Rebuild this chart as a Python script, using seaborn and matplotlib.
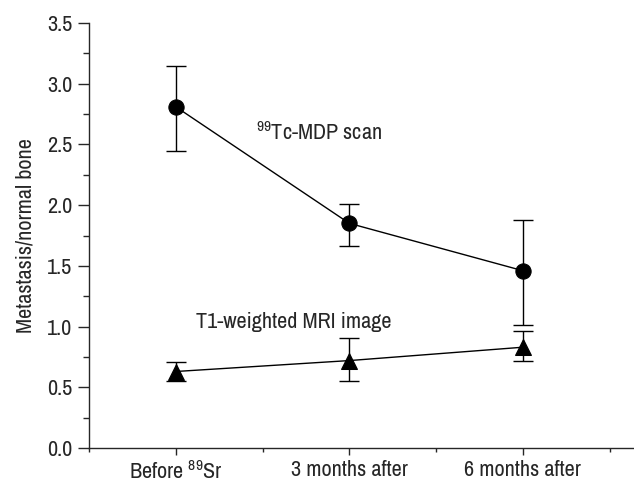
import matplotlib
matplotlib.use("Agg")
import matplotlib.pyplot as plt
import seaborn as sns
import pandas as pd
from matplotlib.ticker import MultipleLocator
from matplotlib import font_manager

categories = ["Before $^{89}$Sr", "3 months after", "6 months after"]
xpos = [1, 2, 3]
tc_mean = [2.81, 1.85, 1.46]
tc_upper = [3.15, 2.01, 1.88]
tc_lower = [2.45, 1.66, 1.01]
mri_mean = [0.63, 0.72, 0.83]
mri_upper = [0.71, 0.91, 0.96]
mri_lower = [0.55, 0.55, 0.72]

names = sorted({f.name for f in font_manager.fontManager.ttflist})
narrow = [n for n in names if "Narrow" in n or "Condensed" in n]

sns.set_style("ticks")
family = narrow[:1] + ['Liberation Sans', 'DejaVu Sans']
plt.rcParams['font.family'] = family
plt.rcParams['mathtext.fontset'] = 'custom'
plt.rcParams['mathtext.rm'] = family[0]

fig = plt.figure(figsize=(6.34, 4.83), dpi=100)
ax = fig.add_axes([89/634, 35/483, 545/634, 425/483])

df = pd.DataFrame({"x": xpos * 2,
                   "y": tc_mean + mri_mean,
                   "series": ["tc"] * 3 + ["mri"] * 3})
sns.lineplot(data=df, x="x", y="y", style="series", markers={"tc": "o", "mri": "^"},
             dashes=False, color="black", markersize=11, lw=1, legend=False, ax=ax,
             markeredgecolor="black")

for mean, up, lo in [(tc_mean, tc_upper, tc_lower), (mri_mean, mri_upper, mri_lower)]:
    yerr = [[m - l for m, l in zip(mean, lo)], [u - m for m, u in zip(mean, up)]]
    ax.errorbar(xpos, mean, yerr=yerr, fmt="none", ecolor="black", elinewidth=1,
                capsize=7, capthick=1)

fs = 16 if narrow else 12
ax.set_xlim(0.5, 3.64)
ax.set_ylim(0, 3.5)
ax.set_xticks(xpos)
ax.set_xticklabels(categories, fontsize=fs)
ax.xaxis.set_minor_locator(MultipleLocator(0.5))
ax.yaxis.set_major_locator(MultipleLocator(0.5))
ax.yaxis.set_minor_locator(MultipleLocator(0.25))
ax.set_yticklabels([f"{v:.1f}" for v in ax.get_yticks()], fontsize=fs)
ax.tick_params(axis="y", which="major", length=8, width=1, pad=4)
ax.tick_params(axis="y", which="minor", length=4, width=1)
ax.tick_params(axis="x", which="major", length=5, width=1, pad=4)
ax.tick_params(axis="x", which="minor", length=3, width=1)
ax.set_xlabel("")
ax.set_ylabel("Metastasis/normal bone", fontsize=fs, labelpad=8)
for s in ["left", "bottom"]:
    ax.spines[s].set_linewidth(1)
sns.despine(ax=ax)

ax.text(1.46, 2.6, "$^{99}$Tc-MDP scan", fontsize=fs, va="center", ha="left")
ax.text(1.115, 1.04, "T1-weighted MRI image", fontsize=fs, va="center", ha="left")

fig.savefig("out.png", dpi=100)
